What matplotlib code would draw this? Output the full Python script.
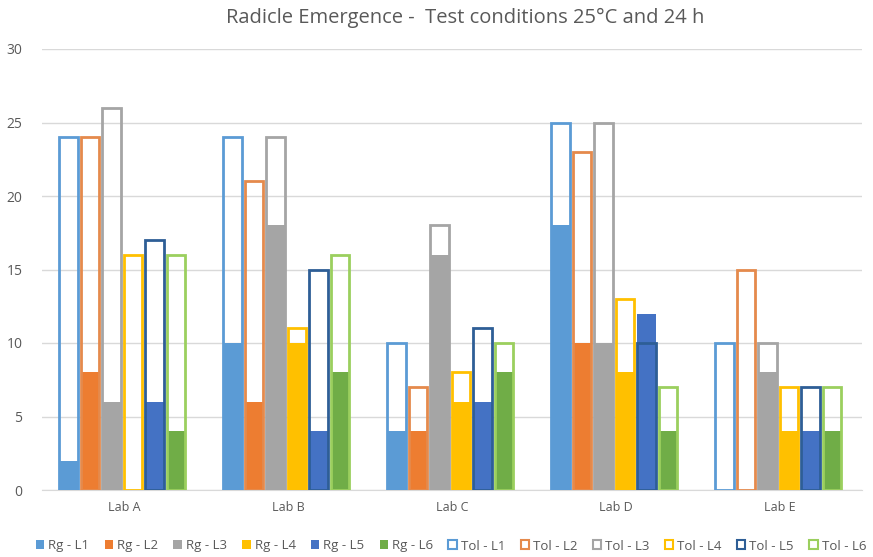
import matplotlib
matplotlib.use("Agg")
import matplotlib.pyplot as plt
import numpy as np
from matplotlib.patches import Patch

plt.rcParams['font.family'] = ['Open Sans', 'DejaVu Sans']

labs = ["Lab A", "Lab B", "Lab C", "Lab D", "Lab E"]
lines = ["L1", "L2", "L3", "L4", "L5", "L6"]

rg_L1 = [2, 10, 4, 18, 0]
rg_L2 = [8, 6, 4, 10, 0]
rg_L3 = [6, 18, 16, 10, 8]
rg_L4 = [0, 10, 6, 8, 4]
rg_L5 = [6, 4, 6, 12, 4]
rg_L6 = [4, 8, 8, 4, 4]

tol_L1 = [24, 24, 10, 25, 10]
tol_L2 = [24, 21, 7, 23, 15]
tol_L3 = [26, 24, 18, 25, 10]
tol_L4 = [16, 11, 8, 13, 7]
tol_L5 = [17, 15, 11, 10, 7]
tol_L6 = [16, 16, 10, 7, 7]

rg = [rg_L1, rg_L2, rg_L3, rg_L4, rg_L5, rg_L6]
tol = [tol_L1, tol_L2, tol_L3, tol_L4, tol_L5, tol_L6]

rg_colors = ["#5B9BD5", "#ED7D31", "#A5A5A5", "#FFC000", "#4472C4", "#70AD47"]
tol_colors = ["#5B9BD5", "#E58A4C", "#A5A5A5", "#FFC000", "#2E5E96", "#9BCF5E"]

fig = plt.figure(figsize=(8.73, 5.57), dpi=100)
ax = fig.add_axes([42/873, 67/557, 820/873, 441/557])

x = np.arange(len(labs))
slot = 0.131
bw = 0.114
for j in range(6):
    pos = x + (j - 2.5) * slot - 0.01
    ax.bar(pos, rg[j], width=bw, color=rg_colors[j], zorder=2)
for j in range(6):
    pos = x + (j - 2.5) * slot - 0.01
    ax.bar(pos, tol[j], width=bw, facecolor='none', edgecolor=tol_colors[j],
           linewidth=2.0, zorder=3)

ax.set_xlim(-0.5, 4.5)
ax.set_ylim(0, 30)
ax.set_yticks(range(0, 31, 5))
ax.set_xticks(x)
ax.set_xticklabels(labs)
ax.grid(axis='y', color='#D9D9D9', linewidth=1, zorder=0)
ax.set_axisbelow(True)
for s in ['top', 'right', 'left']:
    ax.spines[s].set_visible(False)
ax.spines['bottom'].set_color('#D9D9D9')
ax.tick_params(axis='both', length=0, colors='#595959', labelsize=10)
ax.tick_params(axis='x', labelsize=9, pad=8)
ax.tick_params(axis='y', pad=14)

fig.text(465/873, 1 - 18/557, "Radicle Emergence -  Test conditions 25°C and 24 h",
         ha='center', va='center', fontsize=14.5, color='#595959')

handles = []
for j in range(6):
    handles.append(Patch(facecolor=rg_colors[j], edgecolor='none', label=f"Rg - {lines[j]}"))
for j in range(6):
    handles.append(Patch(facecolor='white', edgecolor=tol_colors[j], linewidth=1.5,
                         label=f"Tol - {lines[j]}"))
leg = fig.legend(handles=handles, loc='center', bbox_to_anchor=(451/873, 1 - 546/557),
                 ncol=12, frameon=False, fontsize=9.5, handlelength=0.65, handleheight=0.65,
                 handletextpad=0.3, columnspacing=1.15, labelcolor='#595959')

fig.savefig("out.png", dpi=100)
